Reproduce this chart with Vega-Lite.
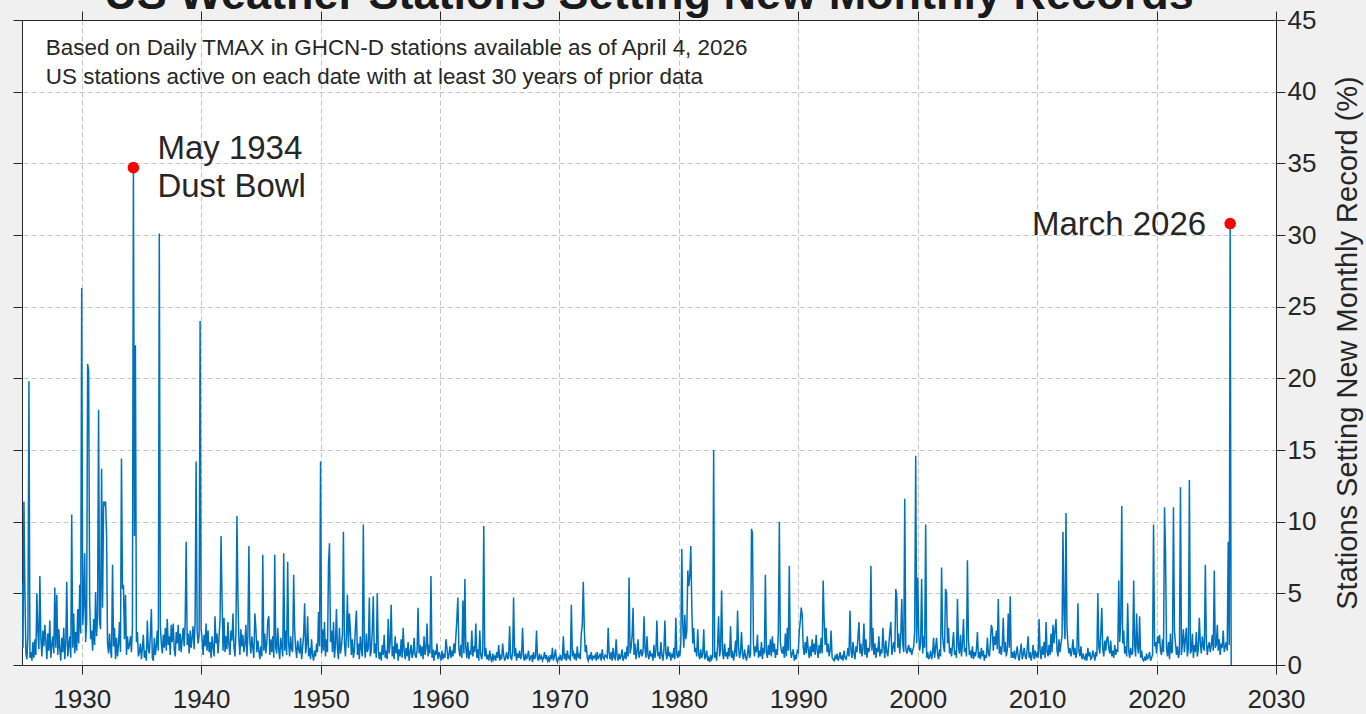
{
"$schema": "https://vega.github.io/schema/vega-lite/v6.json",
"width": 1254, "height": 645,
"autosize": "none",
"padding": {"left": 22, "top": 20, "right": 90, "bottom": 49},
"background": "#f0f0f0",
"view": {"fill": "#ffffff", "stroke": "#262626", "strokeWidth": 1},
"config": {"font": "Liberation Sans",
 "axis": {"labelColor": "#262626", "tickColor": "#262626", "domainColor": "#262626", "titleColor": "#262626", "labelFont": "Liberation Sans", "titleFont": "Liberation Sans", "titleFontWeight": "normal"}},
"title": {"text": "US Weather Stations Setting New Monthly Records", "fontSize": 45, "fontWeight": "bold", "color": "#1a1a1a", "anchor": "middle", "frame": "group", "offset": -11},
"datasets": {
"main": [
{"d":"1925-01","v":5.7},{"d":"1925-02","v":1.2},{"d":"1925-03","v":11.4},{"d":"1925-04","v":5.0},{"d":"1925-05","v":0.8},{"d":"1925-06","v":0.4},{"d":"1925-07","v":2.1},{"d":"1925-08","v":19.8},{"d":"1925-09","v":0.5},{"d":"1925-10","v":0.9},{"d":"1925-11","v":0.3},{"d":"1925-12","v":1.6},
{"d":"1926-01","v":0.5},{"d":"1926-02","v":1.8},{"d":"1926-03","v":0.7},{"d":"1926-04","v":5.0},{"d":"1926-05","v":2.3},{"d":"1926-06","v":1.1},{"d":"1926-07","v":6.2},{"d":"1926-08","v":1.9},{"d":"1926-09","v":0.6},{"d":"1926-10","v":2.4},{"d":"1926-11","v":1.3},{"d":"1926-12","v":2.8},
{"d":"1927-01","v":1.6},{"d":"1927-02","v":0.4},{"d":"1927-03","v":2.2},{"d":"1927-04","v":1.0},{"d":"1927-05","v":3.1},{"d":"1927-06","v":0.5},{"d":"1927-07","v":1.4},{"d":"1927-08","v":2.0},{"d":"1927-09","v":0.8},{"d":"1927-10","v":5.4},{"d":"1927-11","v":1.2},{"d":"1927-12","v":4.9},
{"d":"1928-01","v":0.7},{"d":"1928-02","v":2.5},{"d":"1928-03","v":1.1},{"d":"1928-04","v":0.3},{"d":"1928-05","v":1.9},{"d":"1928-06","v":0.9},{"d":"1928-07","v":2.6},{"d":"1928-08","v":0.4},{"d":"1928-09","v":1.5},{"d":"1928-10","v":5.8},{"d":"1928-11","v":0.6},{"d":"1928-12","v":1.3},
{"d":"1929-01","v":2.0},{"d":"1929-02","v":0.5},{"d":"1929-03","v":10.5},{"d":"1929-04","v":1.2},{"d":"1929-05","v":3.6},{"d":"1929-06","v":0.8},{"d":"1929-07","v":2.3},{"d":"1929-08","v":1.0},{"d":"1929-09","v":3.9},{"d":"1929-10","v":1.5},{"d":"1929-11","v":5.6},{"d":"1929-12","v":2.2},
{"d":"1930-01","v":26.3},{"d":"1930-02","v":2.8},{"d":"1930-03","v":4.1},{"d":"1930-04","v":7.8},{"d":"1930-05","v":1.6},{"d":"1930-06","v":3.0},{"d":"1930-07","v":21.0},{"d":"1930-08","v":20.5},{"d":"1930-09","v":4.5},{"d":"1930-10","v":1.8},{"d":"1930-11","v":2.4},{"d":"1930-12","v":1.0},
{"d":"1931-01","v":3.2},{"d":"1931-02","v":1.4},{"d":"1931-03","v":5.1},{"d":"1931-04","v":2.0},{"d":"1931-05","v":3.5},{"d":"1931-06","v":17.8},{"d":"1931-07","v":3.0},{"d":"1931-08","v":2.5},{"d":"1931-09","v":13.7},{"d":"1931-10","v":4.0},{"d":"1931-11","v":11.4},{"d":"1931-12","v":11.2},
{"d":"1932-01","v":11.4},{"d":"1932-02","v":9.0},{"d":"1932-03","v":1.5},{"d":"1932-04","v":0.8},{"d":"1932-05","v":2.2},{"d":"1932-06","v":1.0},{"d":"1932-07","v":0.5},{"d":"1932-08","v":7.0},{"d":"1932-09","v":1.3},{"d":"1932-10","v":2.6},{"d":"1932-11","v":0.4},{"d":"1932-12","v":1.9},
{"d":"1933-01","v":0.6},{"d":"1933-02","v":1.5},{"d":"1933-03","v":3.0},{"d":"1933-04","v":0.9},{"d":"1933-05","v":14.4},{"d":"1933-06","v":5.3},{"d":"1933-07","v":5.6},{"d":"1933-08","v":1.8},{"d":"1933-09","v":4.9},{"d":"1933-10","v":0.7},{"d":"1933-11","v":2.0},{"d":"1933-12","v":1.1},
{"d":"1934-01","v":1.4},{"d":"1934-02","v":2.0},{"d":"1934-03","v":0.9},{"d":"1934-04","v":2.6},{"d":"1934-05","v":34.7},{"d":"1934-06","v":9.0},{"d":"1934-07","v":22.3},{"d":"1934-08","v":1.6},{"d":"1934-09","v":2.3},{"d":"1934-10","v":0.6},{"d":"1934-11","v":0.9},{"d":"1934-12","v":1.5},
{"d":"1935-01","v":0.4},{"d":"1935-02","v":1.2},{"d":"1935-03","v":2.1},{"d":"1935-04","v":0.5},{"d":"1935-05","v":1.0},{"d":"1935-06","v":0.3},{"d":"1935-07","v":3.1},{"d":"1935-08","v":1.1},{"d":"1935-09","v":0.8},{"d":"1935-10","v":2.0},{"d":"1935-11","v":3.9},{"d":"1935-12","v":0.5},
{"d":"1936-01","v":0.3},{"d":"1936-02","v":1.9},{"d":"1936-03","v":0.7},{"d":"1936-04","v":1.3},{"d":"1936-05","v":2.4},{"d":"1936-06","v":1.0},{"d":"1936-07","v":30.1},{"d":"1936-08","v":2.8},{"d":"1936-09","v":1.5},{"d":"1936-10","v":0.8},{"d":"1936-11","v":2.1},{"d":"1936-12","v":1.2},
{"d":"1937-01","v":2.6},{"d":"1937-02","v":1.0},{"d":"1937-03","v":3.2},{"d":"1937-04","v":1.4},{"d":"1937-05","v":2.0},{"d":"1937-06","v":0.7},{"d":"1937-07","v":2.8},{"d":"1937-08","v":1.6},{"d":"1937-09","v":2.9},{"d":"1937-10","v":1.1},{"d":"1937-11","v":0.6},{"d":"1937-12","v":2.3},
{"d":"1938-01","v":1.5},{"d":"1938-02","v":2.8},{"d":"1938-03","v":1.0},{"d":"1938-04","v":2.2},{"d":"1938-05","v":0.9},{"d":"1938-06","v":1.8},{"d":"1938-07","v":2.6},{"d":"1938-08","v":1.3},{"d":"1938-09","v":3.0},{"d":"1938-10","v":8.6},{"d":"1938-11","v":1.4},{"d":"1938-12","v":2.2},
{"d":"1939-01","v":0.8},{"d":"1939-02","v":2.4},{"d":"1939-03","v":1.2},{"d":"1939-04","v":1.9},{"d":"1939-05","v":2.7},{"d":"1939-06","v":1.1},{"d":"1939-07","v":3.0},{"d":"1939-08","v":14.2},{"d":"1939-09","v":2.4},{"d":"1939-10","v":1.5},{"d":"1939-11","v":2.1},{"d":"1939-12","v":24.0},
{"d":"1940-01","v":2.5},{"d":"1940-02","v":1.8},{"d":"1940-03","v":0.7},{"d":"1940-04","v":2.1},{"d":"1940-05","v":1.3},{"d":"1940-06","v":2.9},{"d":"1940-07","v":1.0},{"d":"1940-08","v":2.4},{"d":"1940-09","v":0.9},{"d":"1940-10","v":1.6},{"d":"1940-11","v":0.5},{"d":"1940-12","v":2.0},
{"d":"1941-01","v":1.2},{"d":"1941-02","v":0.6},{"d":"1941-03","v":3.4},{"d":"1941-04","v":1.5},{"d":"1941-05","v":2.2},{"d":"1941-06","v":0.8},{"d":"1941-07","v":1.9},{"d":"1941-08","v":3.1},{"d":"1941-09","v":9.0},{"d":"1941-10","v":4.8},{"d":"1941-11","v":1.0},{"d":"1941-12","v":3.3},
{"d":"1942-01","v":0.9},{"d":"1942-02","v":2.0},{"d":"1942-03","v":1.1},{"d":"1942-04","v":3.0},{"d":"1942-05","v":1.4},{"d":"1942-06","v":0.7},{"d":"1942-07","v":2.4},{"d":"1942-08","v":1.7},{"d":"1942-09","v":3.6},{"d":"1942-10","v":1.3},{"d":"1942-11","v":0.6},{"d":"1942-12","v":2.2},
{"d":"1943-01","v":10.4},{"d":"1943-02","v":4.6},{"d":"1943-03","v":1.8},{"d":"1943-04","v":0.7},{"d":"1943-05","v":2.5},{"d":"1943-06","v":1.3},{"d":"1943-07","v":2.1},{"d":"1943-08","v":0.9},{"d":"1943-09","v":1.5},{"d":"1943-10","v":2.8},{"d":"1943-11","v":0.6},{"d":"1943-12","v":2.0},
{"d":"1944-01","v":8.3},{"d":"1944-02","v":1.6},{"d":"1944-03","v":0.8},{"d":"1944-04","v":2.0},{"d":"1944-05","v":1.2},{"d":"1944-06","v":0.5},{"d":"1944-07","v":3.6},{"d":"1944-08","v":2.6},{"d":"1944-09","v":0.9},{"d":"1944-10","v":1.7},{"d":"1944-11","v":1.0},{"d":"1944-12","v":0.4},
{"d":"1945-01","v":1.3},{"d":"1945-02","v":0.6},{"d":"1945-03","v":7.7},{"d":"1945-04","v":1.0},{"d":"1945-05","v":2.2},{"d":"1945-06","v":0.8},{"d":"1945-07","v":1.5},{"d":"1945-08","v":3.1},{"d":"1945-09","v":3.4},{"d":"1945-10","v":0.7},{"d":"1945-11","v":1.8},{"d":"1945-12","v":0.9},
{"d":"1946-01","v":2.0},{"d":"1946-02","v":0.5},{"d":"1946-03","v":7.7},{"d":"1946-04","v":1.2},{"d":"1946-05","v":0.8},{"d":"1946-06","v":2.6},{"d":"1946-07","v":1.1},{"d":"1946-08","v":0.4},{"d":"1946-09","v":1.9},{"d":"1946-10","v":1.3},{"d":"1946-11","v":0.6},{"d":"1946-12","v":7.8},
{"d":"1947-01","v":1.0},{"d":"1947-02","v":2.4},{"d":"1947-03","v":0.7},{"d":"1947-04","v":7.2},{"d":"1947-05","v":1.5},{"d":"1947-06","v":0.6},{"d":"1947-07","v":2.0},{"d":"1947-08","v":1.1},{"d":"1947-09","v":0.9},{"d":"1947-10","v":6.3},{"d":"1947-11","v":2.4},{"d":"1947-12","v":1.2},
{"d":"1948-01","v":0.5},{"d":"1948-02","v":1.7},{"d":"1948-03","v":1.1},{"d":"1948-04","v":0.8},{"d":"1948-05","v":1.9},{"d":"1948-06","v":0.4},{"d":"1948-07","v":1.2},{"d":"1948-08","v":2.1},{"d":"1948-09","v":4.3},{"d":"1948-10","v":0.8},{"d":"1948-11","v":1.4},{"d":"1948-12","v":3.4},
{"d":"1949-01","v":0.6},{"d":"1949-02","v":1.2},{"d":"1949-03","v":0.4},{"d":"1949-04","v":1.8},{"d":"1949-05","v":0.7},{"d":"1949-06","v":0.3},{"d":"1949-07","v":1.0},{"d":"1949-08","v":0.6},{"d":"1949-09","v":1.5},{"d":"1949-10","v":0.9},{"d":"1949-11","v":3.7},{"d":"1949-12","v":1.3},
{"d":"1950-01","v":14.2},{"d":"1950-02","v":0.8},{"d":"1950-03","v":2.5},{"d":"1950-04","v":1.0},{"d":"1950-05","v":3.0},{"d":"1950-06","v":0.6},{"d":"1950-07","v":1.8},{"d":"1950-08","v":0.9},{"d":"1950-09","v":7.1},{"d":"1950-10","v":8.5},{"d":"1950-11","v":1.6},{"d":"1950-12","v":2.4},
{"d":"1951-01","v":0.9},{"d":"1951-02","v":3.0},{"d":"1951-03","v":0.5},{"d":"1951-04","v":1.4},{"d":"1951-05","v":3.9},{"d":"1951-06","v":1.1},{"d":"1951-07","v":0.4},{"d":"1951-08","v":2.6},{"d":"1951-09","v":0.8},{"d":"1951-10","v":1.3},{"d":"1951-11","v":2.2},{"d":"1951-12","v":9.3},
{"d":"1952-01","v":1.5},{"d":"1952-02","v":0.6},{"d":"1952-03","v":2.0},{"d":"1952-04","v":4.9},{"d":"1952-05","v":1.2},{"d":"1952-06","v":3.6},{"d":"1952-07","v":2.4},{"d":"1952-08","v":0.7},{"d":"1952-09","v":1.8},{"d":"1952-10","v":0.5},{"d":"1952-11","v":1.0},{"d":"1952-12","v":2.6},
{"d":"1953-01","v":3.8},{"d":"1953-02","v":0.7},{"d":"1953-03","v":1.5},{"d":"1953-04","v":0.4},{"d":"1953-05","v":2.0},{"d":"1953-06","v":1.1},{"d":"1953-07","v":0.6},{"d":"1953-08","v":9.8},{"d":"1953-09","v":1.3},{"d":"1953-10","v":0.5},{"d":"1953-11","v":2.2},{"d":"1953-12","v":0.9},
{"d":"1954-01","v":1.2},{"d":"1954-02","v":4.7},{"d":"1954-03","v":0.6},{"d":"1954-04","v":1.0},{"d":"1954-05","v":2.4},{"d":"1954-06","v":4.8},{"d":"1954-07","v":0.8},{"d":"1954-08","v":1.5},{"d":"1954-09","v":0.5},{"d":"1954-10","v":5.0},{"d":"1954-11","v":1.1},{"d":"1954-12","v":0.4},
{"d":"1955-01","v":0.9},{"d":"1955-02","v":0.3},{"d":"1955-03","v":1.4},{"d":"1955-04","v":0.7},{"d":"1955-05","v":2.1},{"d":"1955-06","v":0.5},{"d":"1955-07","v":1.0},{"d":"1955-08","v":0.4},{"d":"1955-09","v":3.2},{"d":"1955-10","v":0.8},{"d":"1955-11","v":1.6},{"d":"1955-12","v":4.2},
{"d":"1956-01","v":0.6},{"d":"1956-02","v":1.3},{"d":"1956-03","v":0.4},{"d":"1956-04","v":2.0},{"d":"1956-05","v":0.8},{"d":"1956-06","v":1.5},{"d":"1956-07","v":0.3},{"d":"1956-08","v":1.1},{"d":"1956-09","v":0.6},{"d":"1956-10","v":1.8},{"d":"1956-11","v":0.5},{"d":"1956-12","v":2.6},
{"d":"1957-01","v":1.0},{"d":"1957-02","v":0.4},{"d":"1957-03","v":1.2},{"d":"1957-04","v":0.6},{"d":"1957-05","v":1.6},{"d":"1957-06","v":0.3},{"d":"1957-07","v":0.9},{"d":"1957-08","v":1.4},{"d":"1957-09","v":0.5},{"d":"1957-10","v":0.8},{"d":"1957-11","v":1.9},{"d":"1957-12","v":0.7},
{"d":"1958-01","v":0.5},{"d":"1958-02","v":1.1},{"d":"1958-03","v":4.0},{"d":"1958-04","v":0.8},{"d":"1958-05","v":1.4},{"d":"1958-06","v":0.6},{"d":"1958-07","v":1.3},{"d":"1958-08","v":0.4},{"d":"1958-09","v":2.0},{"d":"1958-10","v":0.7},{"d":"1958-11","v":1.2},{"d":"1958-12","v":2.9},
{"d":"1959-01","v":0.6},{"d":"1959-02","v":1.4},{"d":"1959-03","v":0.8},{"d":"1959-04","v":6.2},{"d":"1959-05","v":0.5},{"d":"1959-06","v":1.1},{"d":"1959-07","v":0.3},{"d":"1959-08","v":1.0},{"d":"1959-09","v":0.7},{"d":"1959-10","v":1.5},{"d":"1959-11","v":0.4},{"d":"1959-12","v":0.9},
{"d":"1960-01","v":0.6},{"d":"1960-02","v":0.3},{"d":"1960-03","v":1.0},{"d":"1960-04","v":0.4},{"d":"1960-05","v":0.8},{"d":"1960-06","v":0.5},{"d":"1960-07","v":1.8},{"d":"1960-08","v":1.2},{"d":"1960-09","v":0.4},{"d":"1960-10","v":0.7},{"d":"1960-11","v":1.3},{"d":"1960-12","v":0.5},
{"d":"1961-01","v":1.0},{"d":"1961-02","v":0.6},{"d":"1961-03","v":1.5},{"d":"1961-04","v":0.8},{"d":"1961-05","v":2.0},{"d":"1961-06","v":3.2},{"d":"1961-07","v":4.7},{"d":"1961-08","v":1.1},{"d":"1961-09","v":0.6},{"d":"1961-10","v":1.4},{"d":"1961-11","v":0.5},{"d":"1961-12","v":4.5},
{"d":"1962-01","v":0.8},{"d":"1962-02","v":6.0},{"d":"1962-03","v":1.2},{"d":"1962-04","v":0.5},{"d":"1962-05","v":1.6},{"d":"1962-06","v":0.4},{"d":"1962-07","v":1.0},{"d":"1962-08","v":0.7},{"d":"1962-09","v":2.4},{"d":"1962-10","v":0.6},{"d":"1962-11","v":1.3},{"d":"1962-12","v":0.9},
{"d":"1963-01","v":2.9},{"d":"1963-02","v":0.5},{"d":"1963-03","v":1.1},{"d":"1963-04","v":0.3},{"d":"1963-05","v":2.4},{"d":"1963-06","v":0.7},{"d":"1963-07","v":0.4},{"d":"1963-08","v":1.0},{"d":"1963-09","v":9.7},{"d":"1963-10","v":0.6},{"d":"1963-11","v":1.2},{"d":"1963-12","v":0.4},
{"d":"1964-01","v":0.7},{"d":"1964-02","v":0.3},{"d":"1964-03","v":1.0},{"d":"1964-04","v":0.5},{"d":"1964-05","v":0.2},{"d":"1964-06","v":0.8},{"d":"1964-07","v":0.4},{"d":"1964-08","v":0.6},{"d":"1964-09","v":0.3},{"d":"1964-10","v":0.9},{"d":"1964-11","v":0.5},{"d":"1964-12","v":1.4},
{"d":"1965-01","v":0.3},{"d":"1965-02","v":0.6},{"d":"1965-03","v":0.4},{"d":"1965-04","v":1.5},{"d":"1965-05","v":0.7},{"d":"1965-06","v":0.3},{"d":"1965-07","v":0.5},{"d":"1965-08","v":0.9},{"d":"1965-09","v":0.4},{"d":"1965-10","v":0.6},{"d":"1965-11","v":2.7},{"d":"1965-12","v":0.5},
{"d":"1966-01","v":0.4},{"d":"1966-02","v":0.9},{"d":"1966-03","v":4.7},{"d":"1966-04","v":0.6},{"d":"1966-05","v":1.2},{"d":"1966-06","v":0.3},{"d":"1966-07","v":0.8},{"d":"1966-08","v":0.5},{"d":"1966-09","v":1.0},{"d":"1966-10","v":0.4},{"d":"1966-11","v":0.7},{"d":"1966-12","v":2.6},
{"d":"1967-01","v":0.5},{"d":"1967-02","v":0.3},{"d":"1967-03","v":0.8},{"d":"1967-04","v":0.4},{"d":"1967-05","v":0.6},{"d":"1967-06","v":1.0},{"d":"1967-07","v":0.3},{"d":"1967-08","v":0.5},{"d":"1967-09","v":0.7},{"d":"1967-10","v":0.2},{"d":"1967-11","v":0.9},{"d":"1967-12","v":0.4},
{"d":"1968-01","v":0.6},{"d":"1968-02","v":2.4},{"d":"1968-03","v":0.5},{"d":"1968-04","v":0.3},{"d":"1968-05","v":0.8},{"d":"1968-06","v":0.4},{"d":"1968-07","v":0.6},{"d":"1968-08","v":0.3},{"d":"1968-09","v":0.5},{"d":"1968-10","v":0.9},{"d":"1968-11","v":0.4},{"d":"1968-12","v":0.7},
{"d":"1969-01","v":0.3},{"d":"1969-02","v":0.5},{"d":"1969-03","v":0.2},{"d":"1969-04","v":0.7},{"d":"1969-05","v":0.4},{"d":"1969-06","v":1.2},{"d":"1969-07","v":0.3},{"d":"1969-08","v":0.6},{"d":"1969-09","v":1.1},{"d":"1969-10","v":0.4},{"d":"1969-11","v":0.2},{"d":"1969-12","v":0.5},
{"d":"1970-01","v":0.4},{"d":"1970-02","v":0.7},{"d":"1970-03","v":0.3},{"d":"1970-04","v":0.5},{"d":"1970-05","v":2.0},{"d":"1970-06","v":0.4},{"d":"1970-07","v":0.8},{"d":"1970-08","v":0.3},{"d":"1970-09","v":1.0},{"d":"1970-10","v":0.5},{"d":"1970-11","v":0.6},{"d":"1970-12","v":0.3},
{"d":"1971-01","v":4.2},{"d":"1971-02","v":0.6},{"d":"1971-03","v":1.0},{"d":"1971-04","v":0.4},{"d":"1971-05","v":0.8},{"d":"1971-06","v":0.3},{"d":"1971-07","v":1.3},{"d":"1971-08","v":0.5},{"d":"1971-09","v":0.7},{"d":"1971-10","v":0.4},{"d":"1971-11","v":2.2},{"d":"1971-12","v":2.8},
{"d":"1972-01","v":5.8},{"d":"1972-02","v":2.5},{"d":"1972-03","v":0.9},{"d":"1972-04","v":1.4},{"d":"1972-05","v":0.5},{"d":"1972-06","v":0.3},{"d":"1972-07","v":0.7},{"d":"1972-08","v":0.4},{"d":"1972-09","v":0.9},{"d":"1972-10","v":0.3},{"d":"1972-11","v":0.6},{"d":"1972-12","v":0.5},
{"d":"1973-01","v":0.7},{"d":"1973-02","v":0.3},{"d":"1973-03","v":0.9},{"d":"1973-04","v":0.4},{"d":"1973-05","v":0.6},{"d":"1973-06","v":0.8},{"d":"1973-07","v":0.3},{"d":"1973-08","v":1.1},{"d":"1973-09","v":0.5},{"d":"1973-10","v":0.4},{"d":"1973-11","v":0.7},{"d":"1973-12","v":0.6},
{"d":"1974-01","v":0.5},{"d":"1974-02","v":2.6},{"d":"1974-03","v":0.8},{"d":"1974-04","v":0.4},{"d":"1974-05","v":0.9},{"d":"1974-06","v":0.3},{"d":"1974-07","v":1.2},{"d":"1974-08","v":0.5},{"d":"1974-09","v":0.4},{"d":"1974-10","v":1.8},{"d":"1974-11","v":0.6},{"d":"1974-12","v":0.3},
{"d":"1975-01","v":0.8},{"d":"1975-02","v":0.4},{"d":"1975-03","v":0.6},{"d":"1975-04","v":1.1},{"d":"1975-05","v":0.3},{"d":"1975-06","v":0.5},{"d":"1975-07","v":0.9},{"d":"1975-08","v":0.4},{"d":"1975-09","v":1.3},{"d":"1975-10","v":0.6},{"d":"1975-11","v":6.1},{"d":"1975-12","v":0.8},
{"d":"1976-01","v":1.2},{"d":"1976-02","v":2.0},{"d":"1976-03","v":4.0},{"d":"1976-04","v":0.7},{"d":"1976-05","v":1.5},{"d":"1976-06","v":0.4},{"d":"1976-07","v":0.9},{"d":"1976-08","v":1.8},{"d":"1976-09","v":0.5},{"d":"1976-10","v":0.8},{"d":"1976-11","v":1.1},{"d":"1976-12","v":0.6},
{"d":"1977-01","v":0.9},{"d":"1977-02","v":3.4},{"d":"1977-03","v":1.2},{"d":"1977-04","v":0.5},{"d":"1977-05","v":2.0},{"d":"1977-06","v":0.7},{"d":"1977-07","v":0.4},{"d":"1977-08","v":1.0},{"d":"1977-09","v":0.6},{"d":"1977-10","v":0.8},{"d":"1977-11","v":0.3},{"d":"1977-12","v":1.4},
{"d":"1978-01","v":0.5},{"d":"1978-02","v":1.1},{"d":"1978-03","v":3.1},{"d":"1978-04","v":0.6},{"d":"1978-05","v":0.9},{"d":"1978-06","v":0.4},{"d":"1978-07","v":1.6},{"d":"1978-08","v":0.7},{"d":"1978-09","v":0.3},{"d":"1978-10","v":1.0},{"d":"1978-11","v":3.1},{"d":"1978-12","v":0.8},
{"d":"1979-01","v":0.4},{"d":"1979-02","v":1.3},{"d":"1979-03","v":0.6},{"d":"1979-04","v":0.9},{"d":"1979-05","v":0.3},{"d":"1979-06","v":0.8},{"d":"1979-07","v":0.5},{"d":"1979-08","v":1.2},{"d":"1979-09","v":0.4},{"d":"1979-10","v":3.3},{"d":"1979-11","v":0.7},{"d":"1979-12","v":0.5},
{"d":"1980-01","v":1.0},{"d":"1980-02","v":0.6},{"d":"1980-03","v":1.5},{"d":"1980-04","v":8.1},{"d":"1980-05","v":2.8},{"d":"1980-06","v":1.2},{"d":"1980-07","v":3.5},{"d":"1980-08","v":1.8},{"d":"1980-09","v":2.4},{"d":"1980-10","v":6.6},{"d":"1980-11","v":5.5},{"d":"1980-12","v":6.2},
{"d":"1981-01","v":8.3},{"d":"1981-02","v":4.0},{"d":"1981-03","v":1.5},{"d":"1981-04","v":2.6},{"d":"1981-05","v":0.9},{"d":"1981-06","v":1.2},{"d":"1981-07","v":0.6},{"d":"1981-08","v":2.5},{"d":"1981-09","v":0.7},{"d":"1981-10","v":0.4},{"d":"1981-11","v":1.1},{"d":"1981-12","v":0.5},
{"d":"1982-01","v":0.8},{"d":"1982-02","v":2.5},{"d":"1982-03","v":0.4},{"d":"1982-04","v":0.6},{"d":"1982-05","v":1.0},{"d":"1982-06","v":0.3},{"d":"1982-07","v":0.5},{"d":"1982-08","v":0.2},{"d":"1982-09","v":0.7},{"d":"1982-10","v":0.4},{"d":"1982-11","v":0.6},{"d":"1982-12","v":15.0},
{"d":"1983-01","v":0.5},{"d":"1983-02","v":0.9},{"d":"1983-03","v":0.3},{"d":"1983-04","v":1.4},{"d":"1983-05","v":3.4},{"d":"1983-06","v":0.6},{"d":"1983-07","v":1.1},{"d":"1983-08","v":5.2},{"d":"1983-09","v":0.8},{"d":"1983-10","v":0.4},{"d":"1983-11","v":1.5},{"d":"1983-12","v":0.6},
{"d":"1984-01","v":0.9},{"d":"1984-02","v":0.4},{"d":"1984-03","v":1.2},{"d":"1984-04","v":0.6},{"d":"1984-05","v":2.7},{"d":"1984-06","v":0.5},{"d":"1984-07","v":1.0},{"d":"1984-08","v":0.3},{"d":"1984-09","v":0.8},{"d":"1984-10","v":1.7},{"d":"1984-11","v":0.6},{"d":"1984-12","v":3.8},
{"d":"1985-01","v":1.2},{"d":"1985-02","v":0.5},{"d":"1985-03","v":0.9},{"d":"1985-04","v":2.3},{"d":"1985-05","v":0.7},{"d":"1985-06","v":0.4},{"d":"1985-07","v":1.1},{"d":"1985-08","v":0.6},{"d":"1985-09","v":0.3},{"d":"1985-10","v":0.8},{"d":"1985-11","v":1.4},{"d":"1985-12","v":0.5},
{"d":"1986-01","v":0.7},{"d":"1986-02","v":9.5},{"d":"1986-03","v":9.2},{"d":"1986-04","v":1.5},{"d":"1986-05","v":0.6},{"d":"1986-06","v":1.3},{"d":"1986-07","v":0.9},{"d":"1986-08","v":2.1},{"d":"1986-09","v":0.5},{"d":"1986-10","v":1.0},{"d":"1986-11","v":0.6},{"d":"1986-12","v":1.6},
{"d":"1987-01","v":0.4},{"d":"1987-02","v":1.2},{"d":"1987-03","v":0.8},{"d":"1987-04","v":6.3},{"d":"1987-05","v":0.9},{"d":"1987-06","v":0.5},{"d":"1987-07","v":1.4},{"d":"1987-08","v":0.7},{"d":"1987-09","v":1.8},{"d":"1987-10","v":0.6},{"d":"1987-11","v":2.0},{"d":"1987-12","v":0.9},
{"d":"1988-01","v":1.5},{"d":"1988-02","v":0.5},{"d":"1988-03","v":1.1},{"d":"1988-04","v":0.7},{"d":"1988-05","v":2.4},{"d":"1988-06","v":10.0},{"d":"1988-07","v":1.6},{"d":"1988-08","v":1.0},{"d":"1988-09","v":0.8},{"d":"1988-10","v":1.3},{"d":"1988-11","v":0.5},{"d":"1988-12","v":2.2},
{"d":"1989-01","v":0.6},{"d":"1989-02","v":2.6},{"d":"1989-03","v":1.0},{"d":"1989-04","v":6.9},{"d":"1989-05","v":1.2},{"d":"1989-06","v":0.5},{"d":"1989-07","v":0.8},{"d":"1989-08","v":1.1},{"d":"1989-09","v":0.3},{"d":"1989-10","v":0.7},{"d":"1989-11","v":0.4},{"d":"1989-12","v":1.0},
{"d":"1990-01","v":0.9},{"d":"1990-02","v":2.4},{"d":"1990-03","v":3.0},{"d":"1990-04","v":4.0},{"d":"1990-05","v":3.5},{"d":"1990-06","v":1.2},{"d":"1990-07","v":0.7},{"d":"1990-08","v":1.6},{"d":"1990-09","v":0.8},{"d":"1990-10","v":2.0},{"d":"1990-11","v":1.1},{"d":"1990-12","v":0.5},
{"d":"1991-01","v":1.3},{"d":"1991-02","v":0.6},{"d":"1991-03","v":1.8},{"d":"1991-04","v":0.9},{"d":"1991-05","v":1.5},{"d":"1991-06","v":0.7},{"d":"1991-07","v":2.1},{"d":"1991-08","v":1.0},{"d":"1991-09","v":0.5},{"d":"1991-10","v":1.4},{"d":"1991-11","v":0.8},{"d":"1991-12","v":1.9},
{"d":"1992-01","v":0.8},{"d":"1992-02","v":5.9},{"d":"1992-03","v":3.2},{"d":"1992-04","v":1.4},{"d":"1992-05","v":2.6},{"d":"1992-06","v":0.9},{"d":"1992-07","v":1.5},{"d":"1992-08","v":0.6},{"d":"1992-09","v":1.0},{"d":"1992-10","v":2.4},{"d":"1992-11","v":0.5},{"d":"1992-12","v":0.4},
{"d":"1993-01","v":0.3},{"d":"1993-02","v":0.6},{"d":"1993-03","v":0.4},{"d":"1993-04","v":0.8},{"d":"1993-05","v":0.3},{"d":"1993-06","v":0.5},{"d":"1993-07","v":0.9},{"d":"1993-08","v":0.4},{"d":"1993-09","v":0.6},{"d":"1993-10","v":0.3},{"d":"1993-11","v":1.0},{"d":"1993-12","v":0.5},
{"d":"1994-01","v":0.4},{"d":"1994-02","v":0.7},{"d":"1994-03","v":1.2},{"d":"1994-04","v":0.6},{"d":"1994-05","v":3.8},{"d":"1994-06","v":1.0},{"d":"1994-07","v":0.5},{"d":"1994-08","v":1.6},{"d":"1994-09","v":0.8},{"d":"1994-10","v":0.4},{"d":"1994-11","v":1.3},{"d":"1994-12","v":0.9},
{"d":"1995-01","v":2.0},{"d":"1995-02","v":3.0},{"d":"1995-03","v":0.8},{"d":"1995-04","v":1.5},{"d":"1995-05","v":0.6},{"d":"1995-06","v":1.1},{"d":"1995-07","v":2.9},{"d":"1995-08","v":0.7},{"d":"1995-09","v":1.8},{"d":"1995-10","v":0.5},{"d":"1995-11","v":1.2},{"d":"1995-12","v":0.9},
{"d":"1996-01","v":1.4},{"d":"1996-02","v":6.9},{"d":"1996-03","v":1.0},{"d":"1996-04","v":2.6},{"d":"1996-05","v":0.7},{"d":"1996-06","v":1.5},{"d":"1996-07","v":0.5},{"d":"1996-08","v":1.2},{"d":"1996-09","v":0.9},{"d":"1996-10","v":2.0},{"d":"1996-11","v":0.6},{"d":"1996-12","v":1.1},
{"d":"1997-01","v":0.8},{"d":"1997-02","v":2.6},{"d":"1997-03","v":1.3},{"d":"1997-04","v":0.5},{"d":"1997-05","v":1.7},{"d":"1997-06","v":0.9},{"d":"1997-07","v":0.6},{"d":"1997-08","v":1.4},{"d":"1997-09","v":2.3},{"d":"1997-10","v":3.0},{"d":"1997-11","v":0.7},{"d":"1997-12","v":1.2},
{"d":"1998-01","v":1.6},{"d":"1998-02","v":0.9},{"d":"1998-03","v":5.3},{"d":"1998-04","v":4.8},{"d":"1998-05","v":1.2},{"d":"1998-06","v":2.2},{"d":"1998-07","v":0.8},{"d":"1998-08","v":2.0},{"d":"1998-09","v":4.6},{"d":"1998-10","v":1.5},{"d":"1998-11","v":0.9},{"d":"1998-12","v":11.6},
{"d":"1999-01","v":1.2},{"d":"1999-02","v":0.8},{"d":"1999-03","v":1.1},{"d":"1999-04","v":1.4},{"d":"1999-05","v":0.9},{"d":"1999-06","v":1.2},{"d":"1999-07","v":0.7},{"d":"1999-08","v":1.0},{"d":"1999-09","v":1.3},{"d":"1999-10","v":2.4},{"d":"1999-11","v":14.6},{"d":"1999-12","v":1.5},
{"d":"2000-01","v":6.1},{"d":"2000-02","v":2.2},{"d":"2000-03","v":1.0},{"d":"2000-04","v":1.6},{"d":"2000-05","v":6.0},{"d":"2000-06","v":0.8},{"d":"2000-07","v":2.0},{"d":"2000-08","v":1.2},{"d":"2000-09","v":9.8},{"d":"2000-10","v":0.5},{"d":"2000-11","v":0.9},{"d":"2000-12","v":0.4},
{"d":"2001-01","v":0.6},{"d":"2001-02","v":1.0},{"d":"2001-03","v":0.4},{"d":"2001-04","v":0.8},{"d":"2001-05","v":1.9},{"d":"2001-06","v":0.5},{"d":"2001-07","v":1.2},{"d":"2001-08","v":1.9},{"d":"2001-09","v":0.7},{"d":"2001-10","v":0.4},{"d":"2001-11","v":1.1},{"d":"2001-12","v":0.6},
{"d":"2002-01","v":6.8},{"d":"2002-02","v":2.0},{"d":"2002-03","v":1.3},{"d":"2002-04","v":0.9},{"d":"2002-05","v":5.3},{"d":"2002-06","v":5.0},{"d":"2002-07","v":1.5},{"d":"2002-08","v":2.6},{"d":"2002-09","v":0.8},{"d":"2002-10","v":1.2},{"d":"2002-11","v":0.6},{"d":"2002-12","v":1.4},
{"d":"2003-01","v":2.3},{"d":"2003-02","v":0.7},{"d":"2003-03","v":1.0},{"d":"2003-04","v":0.5},{"d":"2003-05","v":4.6},{"d":"2003-06","v":1.3},{"d":"2003-07","v":0.8},{"d":"2003-08","v":2.1},{"d":"2003-09","v":0.6},{"d":"2003-10","v":1.5},{"d":"2003-11","v":3.2},{"d":"2003-12","v":0.9},
{"d":"2004-01","v":1.2},{"d":"2004-02","v":0.6},{"d":"2004-03","v":7.3},{"d":"2004-04","v":1.8},{"d":"2004-05","v":0.7},{"d":"2004-06","v":1.0},{"d":"2004-07","v":0.5},{"d":"2004-08","v":1.3},{"d":"2004-09","v":0.4},{"d":"2004-10","v":0.9},{"d":"2004-11","v":0.6},{"d":"2004-12","v":1.1},
{"d":"2005-01","v":2.3},{"d":"2005-02","v":0.5},{"d":"2005-03","v":0.9},{"d":"2005-04","v":0.4},{"d":"2005-05","v":1.2},{"d":"2005-06","v":0.6},{"d":"2005-07","v":1.0},{"d":"2005-08","v":0.3},{"d":"2005-09","v":0.7},{"d":"2005-10","v":0.5},{"d":"2005-11","v":1.9},{"d":"2005-12","v":0.8},
{"d":"2006-01","v":0.6},{"d":"2006-02","v":1.5},{"d":"2006-03","v":2.8},{"d":"2006-04","v":2.5},{"d":"2006-05","v":1.0},{"d":"2006-06","v":2.0},{"d":"2006-07","v":1.4},{"d":"2006-08","v":2.4},{"d":"2006-09","v":1.1},{"d":"2006-10","v":4.6},{"d":"2006-11","v":0.8},{"d":"2006-12","v":1.3},
{"d":"2007-01","v":0.7},{"d":"2007-02","v":1.4},{"d":"2007-03","v":3.3},{"d":"2007-04","v":0.9},{"d":"2007-05","v":1.6},{"d":"2007-06","v":0.6},{"d":"2007-07","v":1.0},{"d":"2007-08","v":3.6},{"d":"2007-09","v":1.2},{"d":"2007-10","v":4.8},{"d":"2007-11","v":0.5},{"d":"2007-12","v":0.9},
{"d":"2008-01","v":0.5},{"d":"2008-02","v":1.0},{"d":"2008-03","v":0.4},{"d":"2008-04","v":0.8},{"d":"2008-05","v":1.3},{"d":"2008-06","v":0.6},{"d":"2008-07","v":0.3},{"d":"2008-08","v":0.9},{"d":"2008-09","v":1.5},{"d":"2008-10","v":0.4},{"d":"2008-11","v":0.7},{"d":"2008-12","v":1.2},
{"d":"2009-01","v":0.6},{"d":"2009-02","v":0.4},{"d":"2009-03","v":1.1},{"d":"2009-04","v":2.0},{"d":"2009-05","v":0.5},{"d":"2009-06","v":0.9},{"d":"2009-07","v":0.3},{"d":"2009-08","v":0.7},{"d":"2009-09","v":1.4},{"d":"2009-10","v":0.4},{"d":"2009-11","v":1.0},{"d":"2009-12","v":0.6},
{"d":"2010-01","v":0.8},{"d":"2010-02","v":0.5},{"d":"2010-03","v":3.2},{"d":"2010-04","v":1.0},{"d":"2010-05","v":0.4},{"d":"2010-06","v":1.3},{"d":"2010-07","v":0.7},{"d":"2010-08","v":1.6},{"d":"2010-09","v":0.5},{"d":"2010-10","v":3.0},{"d":"2010-11","v":0.9},{"d":"2010-12","v":0.6},
{"d":"2011-01","v":1.4},{"d":"2011-02","v":0.7},{"d":"2011-03","v":2.2},{"d":"2011-04","v":0.9},{"d":"2011-05","v":2.8},{"d":"2011-06","v":1.5},{"d":"2011-07","v":2.4},{"d":"2011-08","v":3.2},{"d":"2011-09","v":1.0},{"d":"2011-10","v":0.6},{"d":"2011-11","v":1.8},{"d":"2011-12","v":0.9},
{"d":"2012-01","v":1.5},{"d":"2012-02","v":2.0},{"d":"2012-03","v":9.3},{"d":"2012-04","v":3.5},{"d":"2012-05","v":1.8},{"d":"2012-06","v":10.6},{"d":"2012-07","v":2.6},{"d":"2012-08","v":1.4},{"d":"2012-09","v":0.8},{"d":"2012-10","v":1.2},{"d":"2012-11","v":0.6},{"d":"2012-12","v":1.0},
{"d":"2013-01","v":1.8},{"d":"2013-02","v":0.7},{"d":"2013-03","v":1.2},{"d":"2013-04","v":0.5},{"d":"2013-05","v":0.9},{"d":"2013-06","v":4.3},{"d":"2013-07","v":1.0},{"d":"2013-08","v":0.6},{"d":"2013-09","v":1.3},{"d":"2013-10","v":0.4},{"d":"2013-11","v":0.8},{"d":"2013-12","v":0.5},
{"d":"2014-01","v":0.4},{"d":"2014-02","v":0.8},{"d":"2014-03","v":0.3},{"d":"2014-04","v":1.2},{"d":"2014-05","v":0.6},{"d":"2014-06","v":0.9},{"d":"2014-07","v":0.4},{"d":"2014-08","v":0.5},{"d":"2014-09","v":1.0},{"d":"2014-10","v":0.7},{"d":"2014-11","v":0.3},{"d":"2014-12","v":0.9},
{"d":"2015-01","v":0.6},{"d":"2015-02","v":5.0},{"d":"2015-03","v":1.3},{"d":"2015-04","v":0.8},{"d":"2015-05","v":2.2},{"d":"2015-06","v":4.0},{"d":"2015-07","v":1.1},{"d":"2015-08","v":0.6},{"d":"2015-09","v":1.7},{"d":"2015-10","v":1.0},{"d":"2015-11","v":1.8},{"d":"2015-12","v":2.0},
{"d":"2016-01","v":1.2},{"d":"2016-02","v":0.8},{"d":"2016-03","v":1.7},{"d":"2016-04","v":0.6},{"d":"2016-05","v":1.0},{"d":"2016-06","v":0.5},{"d":"2016-07","v":1.4},{"d":"2016-08","v":0.7},{"d":"2016-09","v":1.1},{"d":"2016-10","v":0.9},{"d":"2016-11","v":5.9},{"d":"2016-12","v":1.6},
{"d":"2017-01","v":3.0},{"d":"2017-02","v":11.1},{"d":"2017-03","v":1.5},{"d":"2017-04","v":2.4},{"d":"2017-05","v":0.8},{"d":"2017-06","v":1.3},{"d":"2017-07","v":0.6},{"d":"2017-08","v":4.3},{"d":"2017-09","v":1.0},{"d":"2017-10","v":0.5},{"d":"2017-11","v":1.2},{"d":"2017-12","v":0.7},
{"d":"2018-01","v":0.9},{"d":"2018-02","v":5.9},{"d":"2018-03","v":1.4},{"d":"2018-04","v":0.6},{"d":"2018-05","v":3.6},{"d":"2018-06","v":1.2},{"d":"2018-07","v":0.8},{"d":"2018-08","v":3.4},{"d":"2018-09","v":0.5},{"d":"2018-10","v":1.0},{"d":"2018-11","v":0.4},{"d":"2018-12","v":0.3},
{"d":"2019-01","v":0.5},{"d":"2019-02","v":0.3},{"d":"2019-03","v":0.8},{"d":"2019-04","v":0.4},{"d":"2019-05","v":0.6},{"d":"2019-06","v":0.9},{"d":"2019-07","v":0.3},{"d":"2019-08","v":0.5},{"d":"2019-09","v":0.7},{"d":"2019-10","v":9.8},{"d":"2019-11","v":1.3},{"d":"2019-12","v":1.6},
{"d":"2020-01","v":0.8},{"d":"2020-02","v":2.0},{"d":"2020-03","v":1.5},{"d":"2020-04","v":2.1},{"d":"2020-05","v":1.0},{"d":"2020-06","v":0.7},{"d":"2020-07","v":1.8},{"d":"2020-08","v":0.9},{"d":"2020-09","v":11.0},{"d":"2020-10","v":7.9},{"d":"2020-11","v":1.2},{"d":"2020-12","v":0.6},
{"d":"2021-01","v":1.6},{"d":"2021-02","v":0.4},{"d":"2021-03","v":2.2},{"d":"2021-04","v":0.8},{"d":"2021-05","v":1.0},{"d":"2021-06","v":11.0},{"d":"2021-07","v":2.4},{"d":"2021-08","v":1.5},{"d":"2021-09","v":0.7},{"d":"2021-10","v":1.3},{"d":"2021-11","v":0.5},{"d":"2021-12","v":0.9},
{"d":"2022-01","v":12.4},{"d":"2022-02","v":0.7},{"d":"2022-03","v":1.5},{"d":"2022-04","v":2.5},{"d":"2022-05","v":0.9},{"d":"2022-06","v":1.8},{"d":"2022-07","v":2.6},{"d":"2022-08","v":0.6},{"d":"2022-09","v":1.2},{"d":"2022-10","v":12.9},{"d":"2022-11","v":0.8},{"d":"2022-12","v":1.0},
{"d":"2023-01","v":2.2},{"d":"2023-02","v":0.5},{"d":"2023-03","v":1.4},{"d":"2023-04","v":0.9},{"d":"2023-05","v":2.3},{"d":"2023-06","v":0.6},{"d":"2023-07","v":1.1},{"d":"2023-08","v":3.3},{"d":"2023-09","v":1.5},{"d":"2023-10","v":0.8},{"d":"2023-11","v":2.0},{"d":"2023-12","v":1.3},
{"d":"2024-01","v":1.0},{"d":"2024-02","v":7.0},{"d":"2024-03","v":1.8},{"d":"2024-04","v":0.7},{"d":"2024-05","v":1.3},{"d":"2024-06","v":1.6},{"d":"2024-07","v":0.9},{"d":"2024-08","v":1.4},{"d":"2024-09","v":2.1},{"d":"2024-10","v":1.0},{"d":"2024-11","v":6.6},{"d":"2024-12","v":1.2},
{"d":"2025-01","v":1.4},{"d":"2025-02","v":2.8},{"d":"2025-03","v":1.0},{"d":"2025-04","v":1.8},{"d":"2025-05","v":0.7},{"d":"2025-06","v":1.5},{"d":"2025-07","v":1.2},{"d":"2025-08","v":2.4},{"d":"2025-09","v":0.9},{"d":"2025-10","v":1.3},{"d":"2025-11","v":1.6},{"d":"2025-12","v":1.0},
{"d":"2026-01","v":8.6},{"d":"2026-02","v":1.4},{"d":"2026-03","v":30.8},{"d":"2026-04","v":0.0}
],
"peaks": [
{"d":"1934-05","v":34.7,"label":"May 1934\nDust Bowl"},
{"d":"2026-03","v":30.8,"label":"March 2026"}
],
"notes": [
{"d":"1927-01","v":43.05,"label":"Based on Daily TMAX in GHCN-D stations available as of April 4, 2026"},
{"d":"1927-01","v":41.0,"label":"US stations active on each date with at least 30 years of prior data"}
]
},
"layer": [
{"data": {"name": "main"},
 "mark": {"type": "line", "color": "#0072BD", "strokeWidth": 1.5, "clip": true},
 "encoding": {
  "x": {"field": "d", "type": "temporal",
   "scale": {"domain": [{"year": 1925}, {"year": 2030}]},
   "axis": {"orient": "bottom", "title": null, "format": "%Y",
    "values": [{"year":1930},{"year":1940},{"year":1950},{"year":1960},{"year":1970},{"year":1980},{"year":1990},{"year":2000},{"year":2010},{"year":2020},{"year":2030}],
    "grid": true, "gridColor": "#c4c4c4", "gridDash": [5, 3], "gridWidth": 1,
    "gridOpacity": {"condition": {"test": "year(datum.value) >= 2030", "value": 0}, "value": 1},
    "domain": false, "tickSize": 9, "tickWidth": 1, "labelFontSize": 26, "labelPadding": 12, "labelFlush": false, "labelOverlap": false}},
  "y": {"field": "v", "type": "quantitative",
   "scale": {"domain": [0, 45], "nice": false, "zero": true},
   "axis": {"orient": "right", "values": [0,5,10,15,20,25,30,35,40,45],
    "title": "Stations Setting New Monthly Record (%)", "titleFontSize": 29, "titleAngle": 270, "titleBaseline": "top", "titlePadding": 18,
    "grid": true, "gridColor": "#c4c4c4", "gridDash": [5, 3], "gridWidth": 1,
    "gridOpacity": {"condition": {"test": "datum.value >= 45 || datum.value <= 0", "value": 0}, "value": 1},
    "domain": false, "tickSize": 9, "tickWidth": 1, "labelFontSize": 26, "labelPadding": 2, "labelFlush": false, "labelOverlap": false}}
 }},
{"data": {"name": "notes"},
 "mark": {"type": "text", "align": "left", "baseline": "middle", "fontSize": 22.4, "color": "#262626", "font": "Liberation Sans"},
 "encoding": {
  "x": {"field": "d", "type": "temporal",
   "axis": {"orient": "top", "title": null, "labels": false, "grid": false, "domain": false, "tickSize": 9, "tickWidth": 1,
    "values": [{"year":1930},{"year":1940},{"year":1950},{"year":1960},{"year":1970},{"year":1980},{"year":1990},{"year":2000},{"year":2010},{"year":2020},{"year":2030}]}},
  "y": {"field": "v", "type": "quantitative",
   "axis": {"orient": "left", "title": null, "labels": false, "grid": false, "domain": false, "tickSize": 9, "tickWidth": 1, "values": [0,5,10,15,20,25,30,35,40,45]}},
  "text": {"field": "label"}
 }},
{"data": {"name": "peaks"},
 "mark": {"type": "point", "filled": true, "color": "#ff0000", "size": 135, "opacity": 1},
 "encoding": {
  "x": {"field": "d", "type": "temporal", "axis": null},
  "y": {"field": "v", "type": "quantitative", "axis": null}
 }},
{"data": {"name": "peaks"},
 "transform": [{"filter": "datum.v > 32"}],
 "mark": {"type": "text", "align": "left", "baseline": "middle", "dx": 24, "dy": -19, "fontSize": 33, "lineBreak": "\n", "lineHeight": 38, "color": "#262626", "font": "Liberation Sans"},
 "encoding": {
  "x": {"field": "d", "type": "temporal", "axis": null},
  "y": {"field": "v", "type": "quantitative", "axis": null},
  "text": {"field": "label"}
 }},
{"data": {"name": "peaks"},
 "transform": [{"filter": "datum.v < 32"}],
 "mark": {"type": "text", "align": "right", "baseline": "middle", "dx": -24, "dy": 1, "fontSize": 33, "color": "#262626", "font": "Liberation Sans"},
 "encoding": {
  "x": {"field": "d", "type": "temporal", "axis": null},
  "y": {"field": "v", "type": "quantitative", "axis": null},
  "text": {"field": "label"}
 }}
],
"resolve": {"axis": {"x": "independent", "y": "independent"}}
}
